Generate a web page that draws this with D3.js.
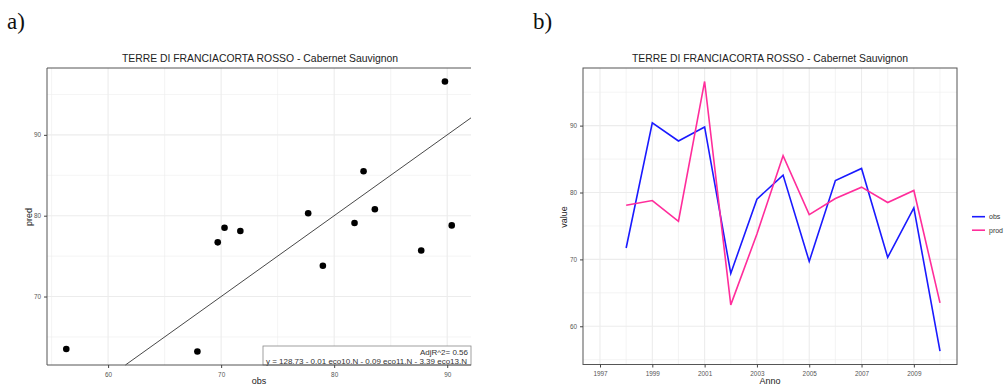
<!DOCTYPE html>
<html>
<head>
<meta charset="utf-8">
<script src="https://cdn.jsdelivr.net/npm/d3@7"></script>
<style>
  body { margin: 0; background: #fff; }
  svg text { font-family: "Liberation Sans", Arial, sans-serif; }
</style>
</head>
<body>
<div id="chart"></div>
<script>
// values
const years = [1998, 1999, 2000, 2001, 2002, 2003, 2004, 2005, 2006, 2007, 2008, 2009, 2010];
const obs  = [71.7, 90.4, 87.7, 89.8, 67.9, 79.0, 82.6, 69.7, 81.8, 83.6, 70.3, 77.7, 56.3];
const pred = [78.1, 78.8, 75.7, 96.6, 63.2, 73.8, 85.5, 76.7, 79.1, 80.8, 78.5, 80.3, 63.5];

const scatterXTicks = [60, 70, 80, 90];
const scatterXMinor = [55, 65, 75, 85];
const scatterYTicks = [70, 80, 90];
const scatterYMinor = [65, 75, 85, 95];
const yearTicks = [1997, 1999, 2001, 2003, 2005, 2007, 2009];
const yearMinor = [1998, 2000, 2002, 2004, 2006, 2008, 2010];
const valueTicks = [60, 70, 80, 90];
const valueMinor = [55, 65, 75, 85, 95];

const chartTitle = "TERRE DI FRANCIACORTA ROSSO - Cabernet Sauvignon";
const fitLabel = ["AdjR^2= 0.56", "y = 128.73 - 0.01 eco10.N - 0.09 eco11.N - 3.39 eco13.N"];
const seriesNames = ["obs", "prod"];
const seriesColors = ["#1a1aff", "#ff2d9b"];

const W = 1005, H = 385;
const svg = d3.select('#chart').append('svg').attr('width', W).attr('height', H);

// ggplot style 5% padding
function padded(ext) {
  const d = (ext[1] - ext[0]) * 0.05;
  return [ext[0] - d, ext[1] + d];
}

const gridCol = '#ececec';
const borderCol = '#555';

function grid(g, xs, ys, majorX, minorX, majorY, minorY, x0, x1, y0, y1) {
  minorX.forEach(v => g.append('line').attr('x1', xs(v)).attr('x2', xs(v)).attr('y1', y0).attr('y2', y1)
    .attr('stroke', gridCol).attr('stroke-width', 0.6));
  minorY.forEach(v => g.append('line').attr('y1', ys(v)).attr('y2', ys(v)).attr('x1', x0).attr('x2', x1)
    .attr('stroke', gridCol).attr('stroke-width', 0.6));
  majorX.forEach(v => g.append('line').attr('x1', xs(v)).attr('x2', xs(v)).attr('y1', y0).attr('y2', y1)
    .attr('stroke', gridCol).attr('stroke-width', 1.1));
  majorY.forEach(v => g.append('line').attr('y1', ys(v)).attr('y2', ys(v)).attr('x1', x0).attr('x2', x1)
    .attr('stroke', gridCol).attr('stroke-width', 1.1));
}

function axes(g, xs, ys, xt, yt, yBottom, xLeft) {
  const ax = g.append('g').attr('transform', `translate(0,${yBottom})`)
    .call(d3.axisBottom(xs).tickValues(xt).tickSize(3).tickPadding(4).tickFormat(d3.format('d')));
  const ay = g.append('g').attr('transform', `translate(${xLeft},0)`)
    .call(d3.axisLeft(ys).tickValues(yt).tickSize(3).tickPadding(3).tickFormat(d3.format('d')));
  [ax, ay].forEach(a => {
    a.select('.domain').remove();
    a.selectAll('line').attr('stroke', '#444');
    a.selectAll('text').attr('fill', '#555').style('font-size', '6.4px');
  });
}

// ---------- panel a) scatter ----------
{
  const L = 47, R = 471, T = 68, B = 365;
  const x = d3.scaleLinear().domain(padded(d3.extent(obs))).range([L, R]);
  const y = d3.scaleLinear().domain(padded(d3.extent(pred))).range([B, T]);
  const g = svg.append('g');

  grid(g, x, y, scatterXTicks, scatterXMinor, scatterYTicks, scatterYMinor, L, R, T, B);

  // 1:1 line
  const lo = Math.max(x.domain()[0], y.domain()[0]);
  const hi = Math.min(x.domain()[1], y.domain()[1]);
  g.append('line').attr('x1', x(lo)).attr('y1', y(lo)).attr('x2', x(hi)).attr('y2', y(hi))
    .attr('stroke', '#333').attr('stroke-width', 0.9);

  g.selectAll('circle').data(obs).enter().append('circle')
    .attr('cx', d => x(d)).attr('cy', (d, i) => y(pred[i])).attr('r', 3.3).attr('fill', '#000');

  // fit label box
  const bx = 263, by = 346;
  g.append('rect').attr('x', bx).attr('y', by).attr('width', R - bx).attr('height', B - by)
    .attr('fill', '#fff').attr('stroke', '#888').attr('stroke-width', 0.8);
  g.append('text').attr('x', R - 3).attr('y', by + 9).attr('text-anchor', 'end')
    .style('font-size', '8px').attr('fill', '#333').text(fitLabel[0]);
  g.append('text').attr('x', R - 4).attr('y', by + 17.5).attr('text-anchor', 'end')
    .style('font-size', '8px').attr('fill', '#333').text(fitLabel[1]);

  // border: left, top, bottom
  g.append('path').attr('d', `M${R},${T}H${L}V${B}H${R}`).attr('fill', 'none')
    .attr('stroke', borderCol).attr('stroke-width', 1);

  axes(g, x, y, scatterXTicks, scatterYTicks, B, L);

  g.append('text').attr('x', 260).attr('y', 62).attr('text-anchor', 'middle')
    .style('font-size', '10.4px').attr('fill', '#222').text(chartTitle);
  g.append('text').attr('x', 259).attr('y', 383.5).attr('text-anchor', 'middle')
    .style('font-size', '9px').attr('fill', '#222').text('obs');
  g.append('text').attr('transform', `translate(32,217) rotate(-90)`).attr('text-anchor', 'middle')
    .style('font-size', '9px').attr('fill', '#222').text('pred');

  svg.append('text').attr('x', 7).attr('y', 29).style('font-family', '"Liberation Serif", "DejaVu Serif", serif')
    .style('font-size', '23px').attr('fill', '#111').text('a)');
}

// ---------- panel b) time series ----------
{
  const L = 583, R = 957, T = 68, B = 364.5;
  const x = d3.scaleLinear().domain(padded(d3.extent(years.concat(yearTicks)))).range([L, R]);
  const y = d3.scaleLinear().domain(padded(d3.extent(obs.concat(pred)))).range([B, T]);
  const g = svg.append('g');

  grid(g, x, y, yearTicks, yearMinor, valueTicks, valueMinor, L, R, T, B);

  const line = d3.line().x(d => x(d[0])).y(d => y(d[1]));
  [obs, pred].forEach((s, k) => {
    g.append('path').datum(years.map((yr, i) => [yr, s[i]])).attr('d', line)
      .attr('fill', 'none').attr('stroke', seriesColors[k]).attr('stroke-width', 1.6)
      .attr('stroke-linejoin', 'miter');
  });

  g.append('rect').attr('x', L).attr('y', T).attr('width', R - L).attr('height', B - T)
    .attr('fill', 'none').attr('stroke', borderCol).attr('stroke-width', 1);

  axes(g, x, y, yearTicks, valueTicks, B, L);

  g.append('text').attr('x', 770).attr('y', 62).attr('text-anchor', 'middle')
    .style('font-size', '10.4px').attr('fill', '#222').text(chartTitle);
  g.append('text').attr('x', 770).attr('y', 383.5).attr('text-anchor', 'middle')
    .style('font-size', '9px').attr('fill', '#222').text('Anno');
  g.append('text').attr('transform', `translate(567,217) rotate(-90)`).attr('text-anchor', 'middle')
    .style('font-size', '9px').attr('fill', '#222').text('value');

  // legend
  const lg = g.append('g');
  seriesNames.forEach((n, k) => {
    const yy = 216.7 + k * 13.5;
    lg.append('line').attr('x1', 972).attr('x2', 985).attr('y1', yy).attr('y2', yy)
      .attr('stroke', seriesColors[k]).attr('stroke-width', 1.6);
    lg.append('text').attr('x', 989).attr('y', yy + 2.5).style('font-size', '7px')
      .attr('fill', '#333').text(n);
  });

  svg.append('text').attr('x', 533).attr('y', 29).style('font-family', '"Liberation Serif", "DejaVu Serif", serif')
    .style('font-size', '23px').attr('fill', '#111').text('b)');
}
</script>
</body>
</html>
